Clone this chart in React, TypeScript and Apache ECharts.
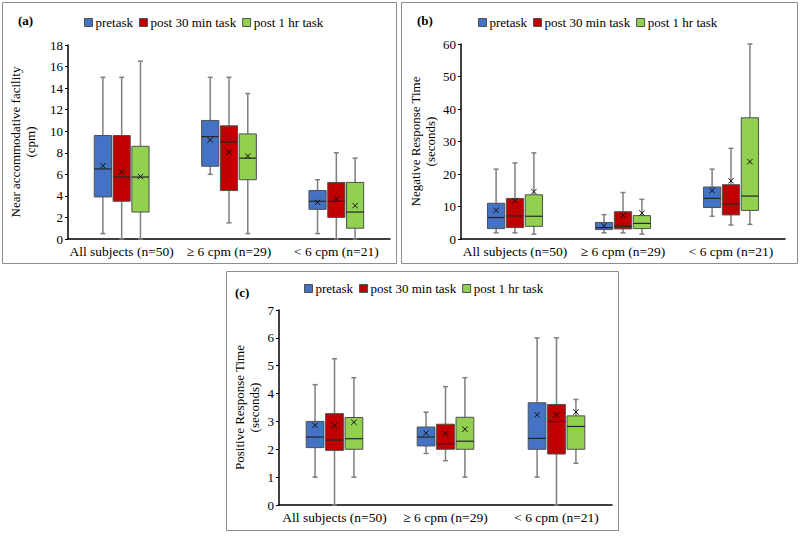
import { useEffect, useRef } from 'react';
import * as echarts from 'echarts';

const categories = ['All subjects (n=50)', '\u2265 6 cpm (n=29)', '< 6 cpm (n=21)'];
const seriesNames = ['pretask', 'post 30 min task', 'post 1 hr task'];
const colors = ['#4472C4', '#C00000', '#92D050'];

// each row: [min, q1, median, q3, max, mean] for one category
const nafPretask = [[0.5, 3.9, 6.5, 9.6, 15, 6.8], [6, 6.75, 9.5, 11, 15, 9.2], [0.5, 2.75, 3.5, 4.5, 5.5, 3.4]];
const nafPost30 = [[0, 3.5, 5.75, 9.6, 15, 6.2], [1.5, 4.5, 9, 10.5, 15, 8.05], [0, 2, 3.5, 5.25, 8, 3.7]];
const nafPost1hr = [[0, 2.5, 5.75, 8.6, 16.5, 5.8], [0.5, 5.5, 7.5, 9.75, 13.5, 7.7], [0, 1, 2.5, 5.25, 7.5, 3.1]];

const nrtPretask = [[1.9, 3.2, 6.6, 11, 21.5, 8.8], [1.9, 2.9, 3.5, 5.1, 7.5, 4.1], [7, 9.7, 12.5, 16, 21.5, 14.9]];
const nrtPost30 = [[1.9, 3.5, 7.1, 12.5, 23.4, 11.8], [1.9, 3.1, 3.9, 8.4, 14.3, 7.3], [4.3, 7.4, 10.8, 16.7, 27.9, 17.9]];
const nrtPost1hr = [[1.5, 3.9, 7, 13.6, 26.5, 14.6], [1.5, 3.2, 4.8, 7.2, 12.2, 8], [4.5, 8.8, 13.2, 37.3, 60, 23.8]];

const prtPretask = [[1, 2.06, 2.44, 3, 4.32, 2.86], [1.85, 2.12, 2.44, 2.8, 3.33, 2.58], [1, 2, 2.39, 3.67, 6, 3.24]];
const prtPost30 = [[0, 1.96, 2.33, 3.28, 5.25, 2.85], [1.59, 2, 2.2, 2.9, 4.25, 2.56], [0, 1.83, 3, 3.61, 6, 3.24]];
const prtPost1hr = [[1, 2, 2.38, 3.14, 4.57, 2.97], [1, 2, 2.29, 3.15, 4.57, 2.72], [1.5, 2, 2.82, 3.2, 3.79, 3.34]];

const yTitles = ['Near accommodative facility\n(cpm)', 'Negative Response Time\n(seconds)', 'Positive Response Time\n(seconds)'];
const yMax = [18, 60, 7];
const yInterval = [2, 10, 1];
const panelLabels = ['(a)', '(b)', '(c)'];

const FONT = 'Liberation Serif';

function makeRender(k: number, color: string) {
  return (params: any, api: any) => {
    const cat = api.value(0);
    const band = api.size([1, 0])[0];
    const cx = api.coord([cat, 0])[0] + (k - 1) * band * 0.175;
    const hw = band * 0.08;
    const y = (i: number) => api.coord([cat, api.value(i)])[1];
    const yMin = y(1), yQ1 = y(2), yMed = y(3), yQ3 = y(4), yMx = y(5), yMean = y(6);
    const capW = 2.5;
    const whisk = { stroke: '#7f7f7f', lineWidth: 1.5 };
    const m = 2.7;
    return {
      type: 'group',
      children: [
        { type: 'line', shape: { x1: cx, y1: yMx, x2: cx, y2: yQ3 }, style: whisk },
        { type: 'line', shape: { x1: cx, y1: yQ1, x2: cx, y2: yMin }, style: whisk },
        { type: 'line', shape: { x1: cx - capW, y1: yMx, x2: cx + capW, y2: yMx }, style: whisk },
        { type: 'line', shape: { x1: cx - capW, y1: yMin, x2: cx + capW, y2: yMin }, style: whisk },
        { type: 'rect', shape: { x: cx - hw, y: yQ3, width: 2 * hw, height: yQ1 - yQ3 }, style: { fill: color, stroke: '#505050', lineWidth: 1 } },
        { type: 'line', shape: { x1: cx - hw, y1: yMed, x2: cx + hw, y2: yMed }, style: { stroke: '#262626', lineWidth: 1.2 } },
        { type: 'line', shape: { x1: cx - m, y1: yMean - m, x2: cx + m, y2: yMean + m }, style: { stroke: '#111', lineWidth: 1 } },
        { type: 'line', shape: { x1: cx - m, y1: yMean + m, x2: cx + m, y2: yMean - m }, style: { stroke: '#111', lineWidth: 1 } },
      ],
    };
  };
}

export default function App() {
  const ref = useRef<HTMLDivElement>(null);
  useEffect(() => {
    if (!ref.current) return;
    const chart = echarts.init(ref.current, null, { renderer: 'svg' });
    const panelData = [
      [nafPretask, nafPost30, nafPost1hr],
      [nrtPretask, nrtPost30, nrtPost1hr],
      [prtPretask, prtPost30, prtPost1hr],
    ];
    const grids = [
      { left: 68, top: 45, width: 322, height: 194 },
      { left: 461, top: 44, width: 324, height: 195 },
      { left: 279, top: 310, width: 333, height: 195 },
    ];
    const nameGaps = [30, 23, 17];
    const legendPos = [
      { left: 84, top: 16 },
      { left: 478, top: 16 },
      { left: 304, top: 282 },
    ];
    const labelPos = [
      [18, 20],
      [417, 20],
      [235, 292],
    ];
    const borders = [
      [2, 2, 394, 261],
      [401, 2, 396, 261],
      [226, 271, 392, 259],
    ];

    const series: any[] = [];
    panelData.forEach((groups, p) => {
      groups.forEach((rows, k) => {
        series.push({
          type: 'custom',
          name: seriesNames[k],
          xAxisIndex: p,
          yAxisIndex: p,
          itemStyle: { color: colors[k], borderColor: '#505050', borderWidth: 1 },
          encode: { x: 0, y: [1, 2, 3, 4, 5, 6] },
          data: rows.map((r, i) => [i, ...r]),
          renderItem: makeRender(k, colors[k]),
          clip: false,
        });
      });
    });

    const option: any = {
      animation: false,
      textStyle: { fontFamily: FONT },
      grid: grids,
      legend: legendPos.map((pos) => ({
        ...pos,
        data: seriesNames,
        icon: 'rect',
        itemWidth: 8,
        itemHeight: 8,
        itemGap: 6,
        selectedMode: false,
        padding: 0,
        itemStyle: { borderColor: '#505050', borderWidth: 1 },
        textStyle: { fontFamily: FONT, fontSize: 13, color: '#000', padding: [0, 0, 0, -2] },
      })),
      xAxis: grids.map((_, p) => ({
        type: 'category',
        gridIndex: p,
        data: categories,
        axisLine: { lineStyle: { color: '#000', width: 1.5 } },
        axisTick: { show: false },
        axisLabel: { fontFamily: FONT, fontSize: 13.5, color: '#000', margin: 5, interval: 0 },
      })),
      yAxis: grids.map((_, p) => ({
        type: 'value',
        gridIndex: p,
        min: 0,
        max: yMax[p],
        interval: yInterval[p],
        name: yTitles[p],
        nameLocation: 'middle',
        nameGap: nameGaps[p],
        nameTextStyle: { fontFamily: FONT, fontSize: 13, color: '#000', lineHeight: 15 },
        axisLine: { show: true, lineStyle: { color: '#000', width: 1.5 } },
        axisTick: { show: true, length: 3, lineStyle: { color: '#000' } },
        splitLine: { show: false },
        axisLabel: { fontFamily: FONT, fontSize: 13, color: '#000', margin: 5 },
      })),
      graphic: [
        ...borders.map((b) => ({
          type: 'rect',
          shape: { x: b[0] + 0.5, y: b[1] + 0.5, width: b[2], height: b[3] },
          style: { fill: 'none', stroke: '#8c8c8c', lineWidth: 1 },
          silent: true,
        })),
        ...panelLabels.map((t, i) => ({
          type: 'text',
          x: labelPos[i][0],
          y: labelPos[i][1],
          style: { text: t, fontFamily: FONT, fontWeight: 'bold', fontSize: 13, fill: '#000', verticalAlign: 'middle' },
        })),
      ],
      series,
    };
    chart.setOption(option);
    return () => chart.dispose();
  }, []);
  return (
    <div
      ref={ref}
      style={{ position: 'fixed', left: 0, top: 0, width: 800, height: 538, background: '#fff' }}
    />
  );
}
